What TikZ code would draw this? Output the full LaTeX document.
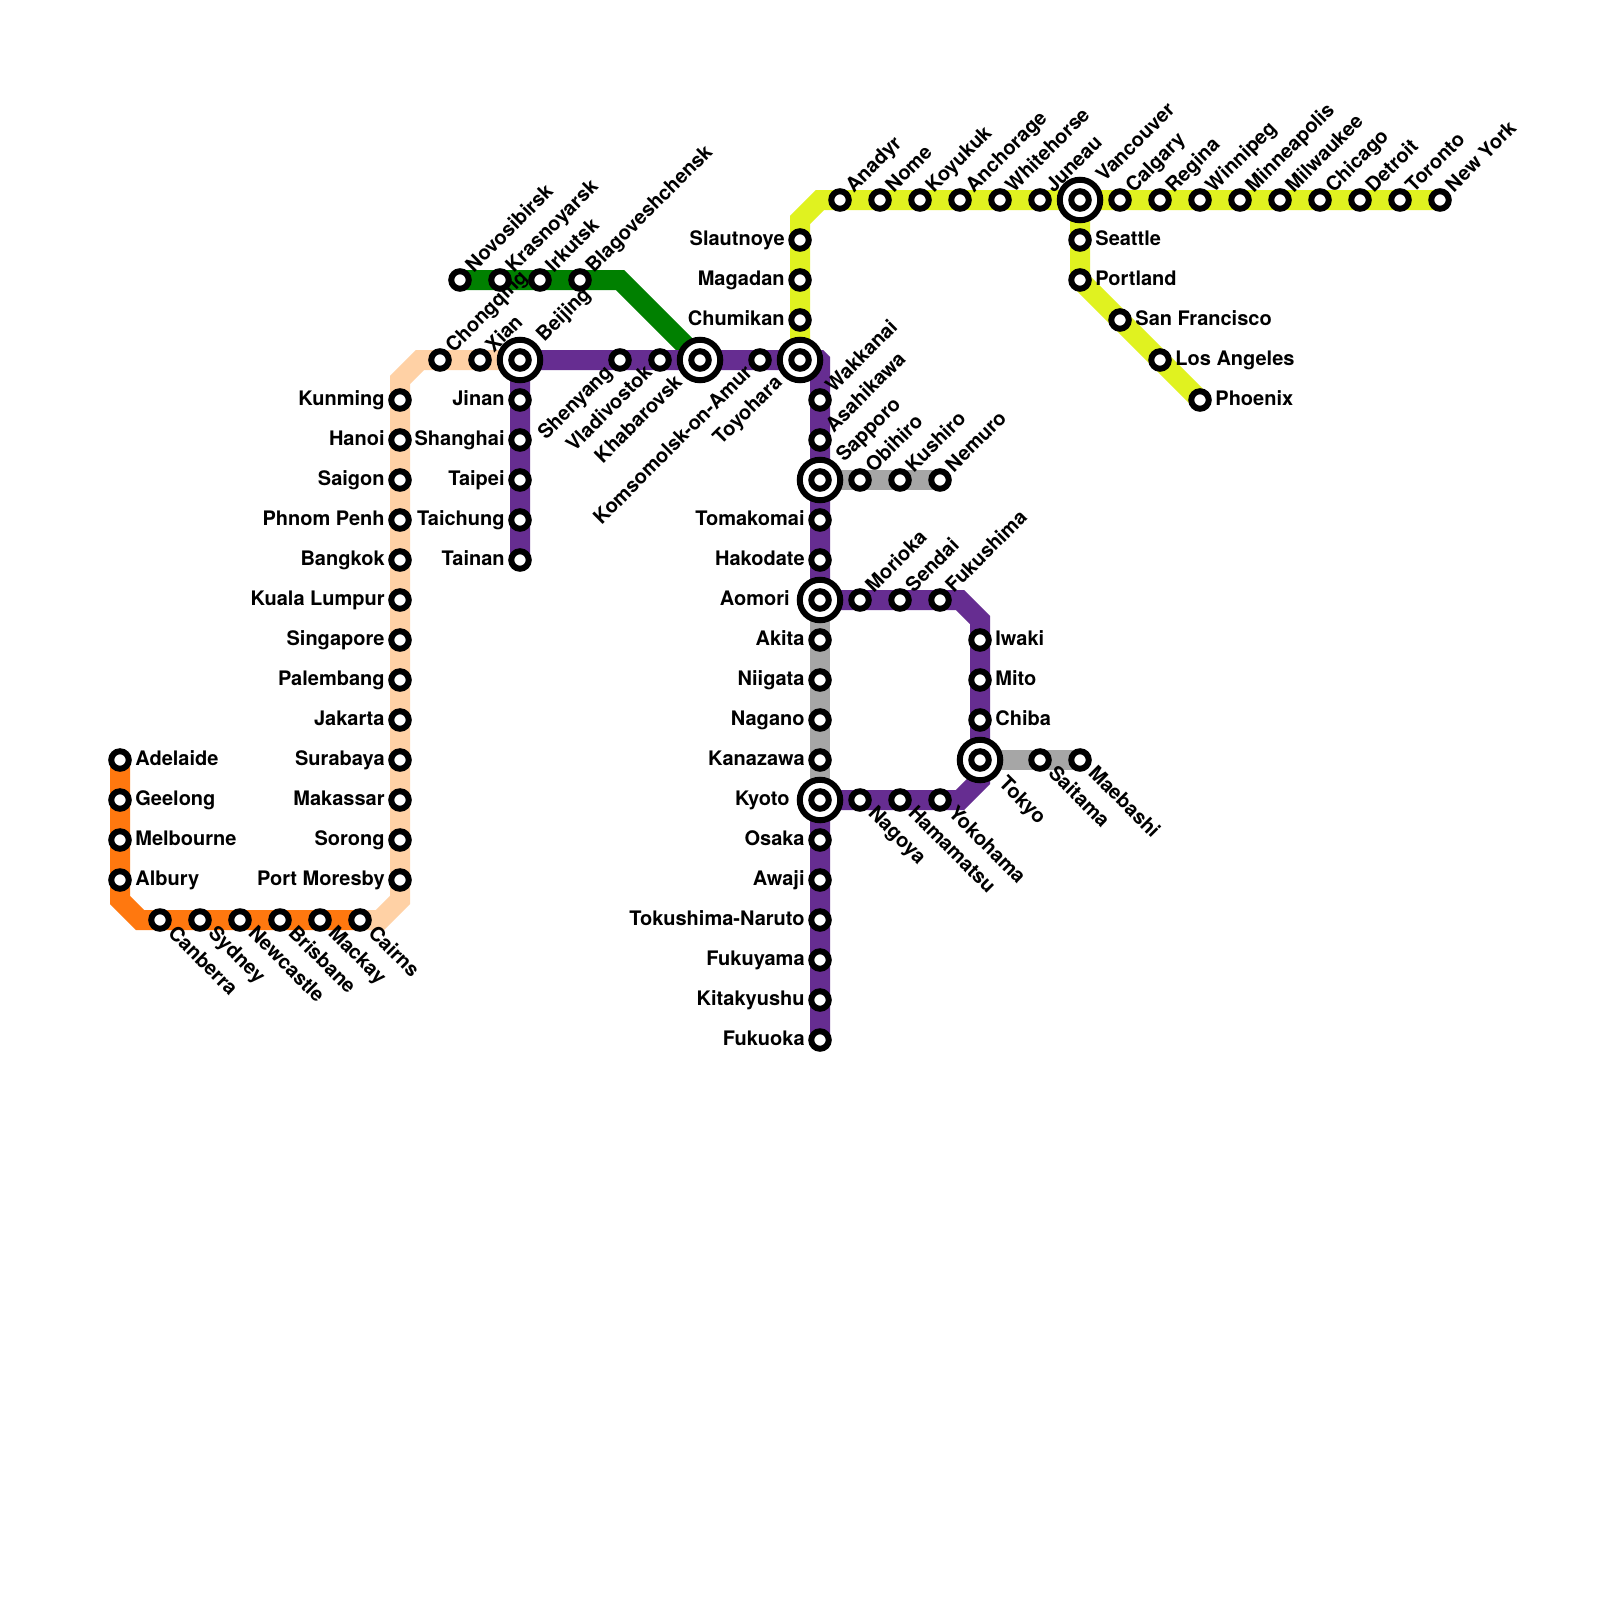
\documentclass[tikz,border=0pt]{standalone}
\usepackage{fontspec}
\setmainfont{TeX Gyre Heros}
\usetikzlibrary{calc}
\pgfdeclarelayer{lines}
\pgfsetlayers{lines,main}
\definecolor{cOrange}{RGB}{255,120,15}
\definecolor{cPale}{RGB}{255,209,165}
\definecolor{cGreen}{RGB}{0,128,0}
\definecolor{cPurple}{RGB}{102,45,145}
\definecolor{cYellow}{RGB}{224,242,32}
\definecolor{cGray}{RGB}{166,166,166}
\tikzset{
  metro/.style={line width=10pt,miter limit=10,line join=miter,line cap=butt},
  stnode/.style={circle,draw=black,fill=white,line width=3pt,minimum size=8.75pt,inner sep=0pt},
  hubnode/.style={circle,draw=black,fill=white,line width=3pt,minimum size=20.25pt,inner sep=0pt},
  lab/.style={font=\fontsize{10}{12}\selectfont\bfseries,inner sep=0pt,text=black,text height=7pt,text depth=2pt},
  labR/.style={lab,anchor=west},
  labL/.style={lab,anchor=east},
  labUR/.style={lab,anchor=west,rotate=45},
  labDR/.style={lab,anchor=west,rotate=-45},
  labDL/.style={lab,anchor=east,rotate=45},
}
\newcommand{\stn}[4]{% id, x, y, label placement + text
  \node[stnode] (#1) at (#2,#3) {};#4}
\newcommand{\hub}[4]{%
  \node[hubnode] (#1) at (#2,#3) {};
  \node[stnode] (#1-in) at (#2,#3) {};#4}
\newcommand{\R}[2]{\node[labR] (#1-t) at ($(#1)+(15,0)$) {#2};}
\newcommand{\Lf}[2]{\node[labL] (#1-t) at ($(#1)+(-15,0)$) {#2};}
\newcommand{\UR}[2]{\node[labUR] (#1-t) at ($(#1)+(10,-10)$) {#2};}
\newcommand{\DR}[2]{\node[labDR] (#1-t) at ($(#1)+(10.5,10.5)$) {#2};}
\newcommand{\DL}[2]{\node[labDL] (#1-t) at ($(#1)+(-10,10)$) {#2};}
\newcommand{\HR}[2]{\node[labR] (#1-t) at ($(#1)+(30,0)$) {#2};}
\newcommand{\HL}[2]{\node[labL] (#1-t) at ($(#1)+(-30,0)$) {#2};}
\newcommand{\HUR}[2]{\node[labUR] (#1-t) at ($(#1)+(20.5,-20.5)$) {#2};}
\newcommand{\HDR}[2]{\node[labDR] (#1-t) at ($(#1)+(21,21)$) {#2};}
\newcommand{\HDL}[2]{\node[labDL] (#1-t) at ($(#1)+(-20,20)$) {#2};}
\begin{document}
\begin{tikzpicture}[x=0.5pt,y=-0.5pt]
\useasboundingbox (0,0) rectangle (1600,1600);
% orange
\stn{adelaide}{120}{760}{\R{adelaide}{Adelaide}}
\stn{geelong}{120}{800}{\R{geelong}{Geelong}}
\stn{melbourne}{120}{840}{\R{melbourne}{Melbourne}}
\stn{albury}{120}{880}{\R{albury}{Albury}}
\stn{canberra}{160}{920}{\DR{canberra}{Canberra}}
\stn{sydney}{200}{920}{\DR{sydney}{Sydney}}
\stn{newcastle}{240}{920}{\DR{newcastle}{Newcastle}}
\stn{brisbane}{280}{920}{\DR{brisbane}{Brisbane}}
\stn{mackay}{320}{920}{\DR{mackay}{Mackay}}
\stn{cairns}{360}{920}{\DR{cairns}{Cairns}}
% pale
\stn{kunming}{400}{400}{\Lf{kunming}{Kunming}}
\stn{hanoi}{400}{440}{\Lf{hanoi}{Hanoi}}
\stn{saigon}{400}{480}{\Lf{saigon}{Saigon}}
\stn{phnompenh}{400}{520}{\Lf{phnompenh}{Phnom Penh}}
\stn{bangkok}{400}{560}{\Lf{bangkok}{Bangkok}}
\stn{kl}{400}{600}{\Lf{kl}{Kuala Lumpur}}
\stn{singapore}{400}{640}{\Lf{singapore}{Singapore}}
\stn{palembang}{400}{680}{\Lf{palembang}{Palembang}}
\stn{jakarta}{400}{720}{\Lf{jakarta}{Jakarta}}
\stn{surabaya}{400}{760}{\Lf{surabaya}{Surabaya}}
\stn{makassar}{400}{800}{\Lf{makassar}{Makassar}}
\stn{sorong}{400}{840}{\Lf{sorong}{Sorong}}
\stn{portmoresby}{400}{880}{\Lf{portmoresby}{Port Moresby}}
\stn{chongqing}{440}{360}{\UR{chongqing}{Chongqing}}
\stn{xian}{480}{360}{\UR{xian}{Xian}}
\hub{beijing}{520}{360}{\HUR{beijing}{Beijing}}
% green
\stn{novosibirsk}{460}{280}{\UR{novosibirsk}{Novosibirsk}}
\stn{krasnoyarsk}{500}{280}{\UR{krasnoyarsk}{Krasnoyarsk}}
\stn{irkutsk}{540}{280}{\UR{irkutsk}{Irkutsk}}
\stn{blago}{580}{280}{\UR{blago}{Blagoveshchensk}}
% purple
\stn{jinan}{520}{400}{\Lf{jinan}{Jinan}}
\stn{shanghai}{520}{440}{\Lf{shanghai}{Shanghai}}
\stn{taipei}{520}{480}{\Lf{taipei}{Taipei}}
\stn{taichung}{520}{520}{\Lf{taichung}{Taichung}}
\stn{tainan}{520}{560}{\Lf{tainan}{Tainan}}
\stn{shenyang}{620}{360}{\DL{shenyang}{Shenyang}}
\stn{vladivostok}{660}{360}{\DL{vladivostok}{Vladivostok}}
\hub{khabarovsk}{700}{360}{\HDL{khabarovsk}{Khabarovsk}}
\stn{komsomolsk}{760}{360}{\DL{komsomolsk}{Komsomolsk-on-Amur}}
\hub{toyohara}{800}{360}{\HDL{toyohara}{Toyohara}}
\stn{wakkanai}{820}{400}{\UR{wakkanai}{Wakkanai}}
\stn{asahikawa}{820}{440}{\UR{asahikawa}{Asahikawa}}
\hub{sapporo}{820}{480}{\HUR{sapporo}{Sapporo}}
\stn{tomakomai}{820}{520}{\Lf{tomakomai}{Tomakomai}}
\stn{hakodate}{820}{560}{\Lf{hakodate}{Hakodate}}
\hub{aomori}{820}{600}{\HL{aomori}{Aomori}}
\stn{akita}{820}{640}{\Lf{akita}{Akita}}
\stn{niigata}{820}{680}{\Lf{niigata}{Niigata}}
\stn{nagano}{820}{720}{\Lf{nagano}{Nagano}}
\stn{kanazawa}{820}{760}{\Lf{kanazawa}{Kanazawa}}
\hub{kyoto}{820}{800}{\HL{kyoto}{Kyoto}}
\stn{osaka}{820}{840}{\Lf{osaka}{Osaka}}
\stn{awaji}{820}{880}{\Lf{awaji}{Awaji}}
\stn{tokushima}{820}{920}{\Lf{tokushima}{Tokushima-Naruto}}
\stn{fukuyama}{820}{960}{\Lf{fukuyama}{Fukuyama}}
\stn{kitakyushu}{820}{1000}{\Lf{kitakyushu}{Kitakyushu}}
\stn{fukuoka}{820}{1040}{\Lf{fukuoka}{Fukuoka}}
\stn{obihiro}{860}{480}{\UR{obihiro}{Obihiro}}
\stn{kushiro}{900}{480}{\UR{kushiro}{Kushiro}}
\stn{nemuro}{940}{480}{\UR{nemuro}{Nemuro}}
\stn{morioka}{860}{600}{\UR{morioka}{Morioka}}
\stn{sendai}{900}{600}{\UR{sendai}{Sendai}}
\stn{fukushima}{940}{600}{\UR{fukushima}{Fukushima}}
\stn{iwaki}{980}{640}{\R{iwaki}{Iwaki}}
\stn{mito}{980}{680}{\R{mito}{Mito}}
\stn{chiba}{980}{720}{\R{chiba}{Chiba}}
\hub{tokyo}{980}{760}{\HDR{tokyo}{Tokyo}}
\stn{saitama}{1040}{760}{\DR{saitama}{Saitama}}
\stn{maebashi}{1080}{760}{\DR{maebashi}{Maebashi}}
\stn{yokohama}{940}{800}{\DR{yokohama}{Yokohama}}
\stn{hamamatsu}{900}{800}{\DR{hamamatsu}{Hamamatsu}}
\stn{nagoya}{860}{800}{\DR{nagoya}{Nagoya}}
% yellow
\stn{chumikan}{800}{320}{\Lf{chumikan}{Chumikan}}
\stn{magadan}{800}{280}{\Lf{magadan}{Magadan}}
\stn{slautnoye}{800}{240}{\Lf{slautnoye}{Slautnoye}}
\stn{anadyr}{840}{200}{\UR{anadyr}{Anadyr}}
\stn{nome}{880}{200}{\UR{nome}{Nome}}
\stn{koyukuk}{920}{200}{\UR{koyukuk}{Koyukuk}}
\stn{anchorage}{960}{200}{\UR{anchorage}{Anchorage}}
\stn{whitehorse}{1000}{200}{\UR{whitehorse}{Whitehorse}}
\stn{juneau}{1040}{200}{\UR{juneau}{Juneau}}
\hub{vancouver}{1080}{200}{\HUR{vancouver}{Vancouver}}
\stn{calgary}{1120}{200}{\UR{calgary}{Calgary}}
\stn{regina}{1160}{200}{\UR{regina}{Regina}}
\stn{winnipeg}{1200}{200}{\UR{winnipeg}{Winnipeg}}
\stn{minneapolis}{1240}{200}{\UR{minneapolis}{Minneapolis}}
\stn{milwaukee}{1280}{200}{\UR{milwaukee}{Milwaukee}}
\stn{chicago}{1320}{200}{\UR{chicago}{Chicago}}
\stn{detroit}{1360}{200}{\UR{detroit}{Detroit}}
\stn{toronto}{1400}{200}{\UR{toronto}{Toronto}}
\stn{newyork}{1440}{200}{\UR{newyork}{New York}}
\stn{seattle}{1080}{240}{\R{seattle}{Seattle}}
\stn{portland}{1080}{280}{\R{portland}{Portland}}
\stn{sanfrancisco}{1120}{320}{\R{sanfrancisco}{San Francisco}}
\stn{losangeles}{1160}{360}{\R{losangeles}{Los Angeles}}
\stn{phoenix}{1200}{400}{\R{phoenix}{Phoenix}}
\begin{pgfonlayer}{lines}
\fill[white] (0,0) rectangle (1600,1600);
\draw[metro,cGray] (sapporo.center) -- (nemuro.center);
\draw[metro,cGray] (aomori.center) -- (kyoto.center);
\draw[metro,cGray] (tokyo.center) -- (maebashi.center);
\draw[metro,cOrange] (adelaide.center) -- (albury.center) -- ($(albury.center)+(0,20)$) -- ($(canberra.center)+(-20,0)$) -- (cairns.center);
\draw[metro,cPale] (cairns.center) -- ($(cairns.center)+(20,0)$) -- ($(portmoresby.center)+(0,20)$) -- (kunming.center) -- ($(kunming.center)+(0,-20)$) -- ($(chongqing.center)+(-20,0)$) -- (beijing.center);
\draw[metro,cGreen] (novosibirsk.center) -- ($(blago.center)+(40,0)$) -- (khabarovsk.center);
\draw[metro,cYellow] (toyohara.center) -- (slautnoye.center) -- ($(slautnoye.center)+(0,-20)$) -- ($(anadyr.center)+(-20,0)$) -- (newyork.center);
\draw[metro,cYellow] (vancouver.center) -- (portland.center) -- (phoenix.center);
\draw[metro,cPurple] (tainan.center) -- (beijing.center) -- (toyohara.center) -- ($(toyohara.center)+(19,0)$) -- ($(toyohara.center)+(20,1)$) -- (wakkanai.center) -- (aomori.center);
\draw[metro,cPurple] (aomori.center) -- ($(fukushima.center)+(20,0)$) -- ($(iwaki.center)+(0,-20)$) -- (tokyo.center) -- ($(tokyo.center)+(0,20)$) -- ($(yokohama.center)+(20,0)$) -- (kyoto.center) -- (fukuoka.center);
\end{pgfonlayer}
\end{tikzpicture}
\end{document}
